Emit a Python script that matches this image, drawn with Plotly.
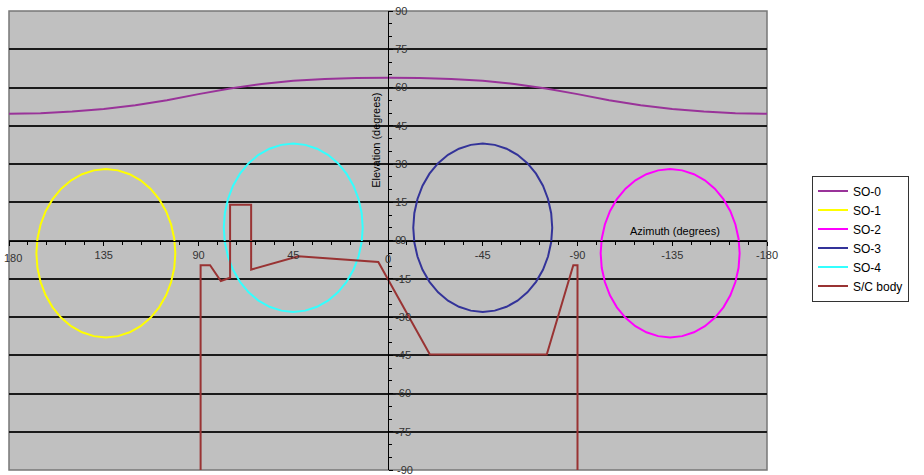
import plotly.graph_objects as go

# ---- data ----
so0_az = [180, 165, 150, 135, 120, 105, 90, 75, 60, 45, 30, 15, 0,
          -15, -30, -45, -60, -75, -90, -105, -120, -135, -150, -165, -180]
so0_el = [49.7, 49.9, 50.6, 51.6, 53.0, 55.0, 57.4, 59.6, 61.4, 62.6, 63.3, 63.7, 63.8,
          63.7, 63.3, 62.6, 61.4, 59.6, 57.4, 55.0, 53.0, 51.6, 50.6, 49.9, 49.7]

so1_az = [167, 166.5, 165, 162.6, 159.3, 155.2, 150.5, 145.3, 139.7, 134, 128.3, 122.7,
          117.5, 112.8, 108.7, 105.4, 103, 101.5, 101, 101.5, 103, 105.4, 108.7, 112.8,
          117.5, 122.7, 128.3, 134, 139.7, 145.3, 150.5, 155.2, 159.3, 162.6, 165, 166.5, 167]
so1_el = [-5, 0.7, 6.3, 11.5, 16.2, 20.3, 23.6, 26, 27.5, 28, 27.5, 26, 23.6, 20.3, 16.2,
          11.5, 6.3, 0.7, -5, -10.7, -16.3, -21.5, -26.2, -30.3, -33.6, -36, -37.5, -38,
          -37.5, -36, -33.6, -30.3, -26.2, -21.5, -16.3, -10.7, -5]

so2_az = [-101, -101.5, -103, -105.4, -108.7, -112.8, -117.5, -122.7, -128.3, -134, -139.7,
          -145.3, -150.5, -155.2, -159.3, -162.6, -165, -166.5, -167, -166.5, -165, -162.6,
          -159.3, -155.2, -150.5, -145.3, -139.7, -134, -128.3, -122.7, -117.5, -112.8,
          -108.7, -105.4, -103, -101.5, -101]
so2_el = [-5, 0.7, 6.3, 11.5, 16.2, 20.3, 23.6, 26, 27.5, 28, 27.5, 26, 23.6, 20.3, 16.2,
          11.5, 6.3, 0.7, -5, -10.7, -16.3, -21.5, -26.2, -30.3, -33.6, -36, -37.5, -38,
          -37.5, -36, -33.6, -30.3, -26.2, -21.5, -16.3, -10.7, -5]

so3_az = [-12, -12.5, -14, -16.4, -19.7, -23.8, -28.5, -33.7, -39.3, -45, -50.7, -56.3,
          -61.5, -66.2, -70.3, -73.6, -76, -77.5, -78, -77.5, -76, -73.6, -70.3, -66.2,
          -61.5, -56.3, -50.7, -45, -39.3, -33.7, -28.5, -23.8, -19.7, -16.4, -14, -12.5, -12]
so3_el = [5, 10.7, 16.3, 21.5, 26.2, 30.3, 33.6, 36, 37.5, 38, 37.5, 36, 33.6, 30.3, 26.2,
          21.5, 16.3, 10.7, 5, -0.7, -6.3, -11.5, -16.2, -20.3, -23.6, -26, -27.5, -28,
          -27.5, -26, -23.6, -20.3, -16.2, -11.5, -6.3, -0.7, 5]

so4_az = [12, 12.5, 14, 16.4, 19.7, 23.8, 28.5, 33.7, 39.3, 45, 50.7, 56.3,
          61.5, 66.2, 70.3, 73.6, 76, 77.5, 78, 77.5, 76, 73.6, 70.3, 66.2,
          61.5, 56.3, 50.7, 45, 39.3, 33.7, 28.5, 23.8, 19.7, 16.4, 14, 12.5, 12]
so4_el = [5, 10.7, 16.3, 21.5, 26.2, 30.3, 33.6, 36, 37.5, 38, 37.5, 36, 33.6, 30.3, 26.2,
          21.5, 16.3, 10.7, 5, -0.7, -6.3, -11.5, -16.2, -20.3, -23.6, -26, -27.5, -28,
          -27.5, -26, -23.6, -20.3, -16.2, -11.5, -6.3, -0.7, 5]

body_az = [89, 89, 84.5, 79.4, 75, 75, 65, 65, 42.6, 4.6, -19.9, -75.4, -88, -90, -90]
body_el = [-90, -9.7, -9.7, -15.9, -14.6, 14, 14, -11.4, -6.2, -8.4, -44.7, -44.7, -9.7, -9.7, -90]

series_names = ["SO-0", "SO-1", "SO-2", "SO-3", "SO-4", "S/C body"]
series_colors = ["#993399", "#ffff00", "#ff00ff", "#333399", "#33ffff", "#993333"]

# axis ticks drawn by Plotly (the crossing "0" and edge labels are added below)
x_tickvals = [180, 135, 90, 45, -45, -90, -135, -180]
y_tickvals = [90, 75, 60, 45, 30, 15, 0, -15, -30, -45, -60, -75, -90]

FONT = "Liberation Sans, Arial, sans-serif"

W, H = 924, 475
PL, PR, PT, PB = 9, 767, 7, 470          # target plot area in screen px
PW, PH = PR - PL, PB - PT

fig = go.Figure()
data = [(so0_az, so0_el), (so1_az, so1_el), (so2_az, so2_el),
        (so3_az, so3_el), (so4_az, so4_el), (body_az, body_el)]
for (xs, ys), name, col in zip(data, series_names, series_colors):
    fig.add_trace(go.Scatter(x=xs, y=ys, mode="lines", name=name,
                             line=dict(color=col, width=2)))

tick_font = dict(family=FONT, size=11, color="#333333")

# tick labels that Plotly suppresses (at the crossing point / figure edges)
extra_labels = [
    dict(text="180", xref="x", yref="y", x=180, y=0, xshift=4, yshift=-17,
         xanchor="center", yanchor="middle", showarrow=False, font=tick_font),
    dict(text="0", xref="x", yref="y", x=0, y=0, yshift=-18,
         xanchor="center", yanchor="middle", showarrow=False, font=tick_font),
    dict(text="0", xref="x", yref="y", x=0, y=0, xshift=10, yshift=1,
         xanchor="left", yanchor="middle", showarrow=False, font=tick_font),
    dict(text="-90", xref="x", yref="y", x=0, y=-90, xshift=7,
         xanchor="left", yanchor="middle", showarrow=False, font=tick_font),
]

fig.update_layout(
    width=W, height=H,
    margin=dict(l=PL, r=W - PR, t=PT, b=H - PB),
    paper_bgcolor="white",
    plot_bgcolor="#c0c0c0",
    font=dict(family=FONT, size=11, color="#333333"),
    showlegend=True,
    legend=dict(x=(812 - PL) / PW, y=(PB - 173) / PH, xanchor="left", yanchor="top",
                bgcolor="white", bordercolor="#333333", borderwidth=1,
                font=dict(family=FONT, size=12, color="black"),
                itemwidth=30),
    xaxis=dict(range=[180, -180], anchor="free", position=0.5, side="bottom",
               tickvals=x_tickvals, ticktext=[str(v) for v in x_tickvals],
               showgrid=False, zeroline=False, showline=True,
               linecolor="black", linewidth=1,
               ticks="outside", ticklen=4, tickcolor="black",
               minor=dict(dtick=9, ticks="outside", ticklen=3, tickcolor="black", showgrid=False),
               tickfont=tick_font),
    yaxis=dict(range=[-90, 90], anchor="free", position=0.5, side="right",
               tickvals=y_tickvals, ticktext=[str(v) for v in y_tickvals],
               showgrid=True, gridcolor="#1a1a1a", gridwidth=1.5,
               zeroline=False, showline=True, linecolor="black", linewidth=1,
               ticks="outside", ticklen=4, tickcolor="black",
               minor=dict(dtick=5, ticks="outside", ticklen=3, tickcolor="black", showgrid=False),
               tickfont=tick_font),
    shapes=[dict(type="rect", xref="paper", yref="paper", x0=0, x1=1, y0=0, y1=1,
                 line=dict(color="#777777", width=1.5), layer="below")],
    annotations=[
        dict(text="Azimuth (degrees)", xref="paper", yref="paper",
             x=(675 - PL) / PW, y=(PB - 229) / PH, xanchor="center", yanchor="middle",
             showarrow=False, font=dict(family=FONT, size=11, color="black")),
        dict(text="Elevation (degrees)", xref="paper", yref="paper",
             x=(376 - PL) / PW, y=(PB - 138) / PH, xanchor="center", yanchor="middle",
             showarrow=False, textangle=-90,
             font=dict(family=FONT, size=11, color="black")),
    ] + extra_labels,
)

fig.write_html("out.html", config={"displayModeBar": False},
               post_script="document.body.style.margin='0px';")
